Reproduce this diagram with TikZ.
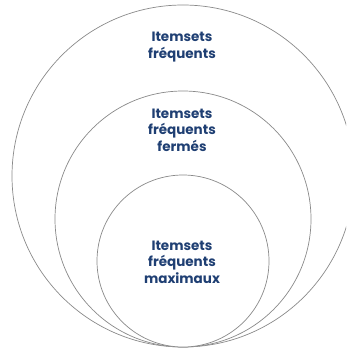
\documentclass[tikz,border=0pt]{standalone}
\usepackage{fontspec}
\setmainfont{Poppins}
\usepackage{tikz}
\definecolor{setblue}{HTML}{1F3F73}
\definecolor{setgray}{HTML}{8A8A8A}

\tikzset{
  setring/.style={circle, draw=setgray, line width=0.7pt, fill=white, inner sep=0pt},
  setlabel/.style={align=center, text=setblue, font=\bfseries\fontsize{13.5}{16.5}\selectfont}
}

\begin{document}
\begin{tikzpicture}[x=1pt, y=-1pt]
\useasboundingbox (0,0) rectangle (346,350);
\begin{scope}
\clip (0,0) rectangle (346,350);
\node[setring, minimum size=342pt] (outer) at (183,176) {};
\node[setring, minimum size=256pt] (closed) at (183,219) {};
\node[setring, minimum size=172pt] (maximal) at (183,261) {};
\end{scope}
\node[setlabel] (outertxt) at (182,47) {Itemsets\\fréquents};
\node[setlabel] (closedtxt) at (182,130) {Itemsets\\fréquents\\fermés};
\node[setlabel] (maximaltxt) at (182,262) {Itemsets\\fréquents\\maximaux};
\end{tikzpicture}
\end{document}
